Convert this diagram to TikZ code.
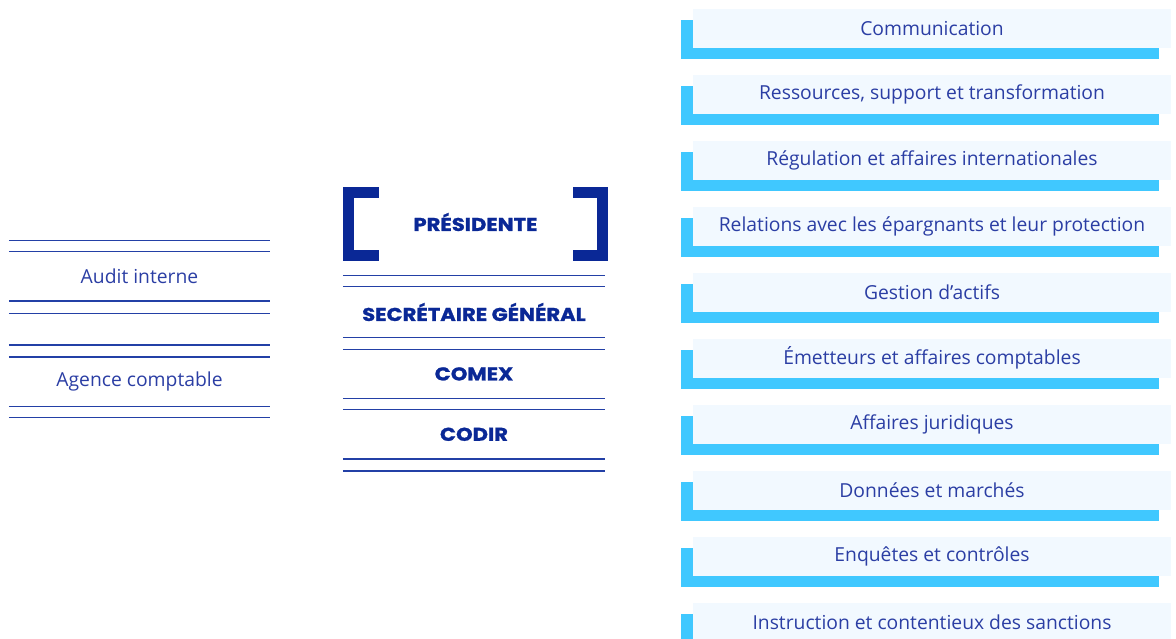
\documentclass[tikz,border=0pt]{standalone}
\usepackage{fontspec}
\setmainfont{Open Sans}
\newfontfamily\headfont{Poppins}[BoldFeatures={FakeBold=1.2,FakeStretch=1.14}]
\usepackage{tikz}
\usetikzlibrary{positioning,calc,shadows}
\definecolor{AmfNavy}{HTML}{0A2896}
\definecolor{AmfText}{HTML}{2B3EA4}
\definecolor{AmfLine}{HTML}{2340A6}
\definecolor{AmfCyan}{HTML}{40C8FF}
\definecolor{AmfSky}{HTML}{F2F9FF}

\begin{document}
\begin{tikzpicture}[x=1pt,y=-1pt,node distance=26.55pt]
  \tikzstyle{unit}=[minimum width=478pt, minimum height=39pt, inner sep=0pt, fill=AmfSky, text=AmfText, font=\fontsize{19.3}{21}\selectfont, general shadow={fill=AmfCyan, shadow xshift=-12pt, shadow yshift=-11pt}]
  \tikzstyle{side}=[minimum width=261pt, minimum height=49pt, inner sep=0pt, text=AmfText, font=\fontsize{19.3}{21}\selectfont]
  \tikzstyle{head}=[minimum width=262pt, minimum height=49pt, inner sep=0pt, text=AmfNavy, font=\headfont\bfseries\fontsize{18.5}{20}\selectfont]
  \tikzstyle{rule}=[draw=AmfLine, line width=1.4pt]
  \tikzstyle{bracket}=[draw=AmfNavy, line width=11pt, line join=miter]
  \useasboundingbox (0,0) rectangle (1176,639);

  % left column
  \node[side] (audit) at (139.5,276.5) {Audit interne};
  \node[side] (agence) at (139.5,381.5) {Agence comptable};
  \draw[rule] ([yshift=11pt]audit.north west) -- ([yshift=11pt]audit.north east);
  \draw[rule] (audit.north west) -- (audit.north east);
  \draw[rule] (audit.south west) -- (audit.south east);
  \draw[rule] ([yshift=-12pt]audit.south west) -- ([yshift=-12pt]audit.south east);
  \draw[rule] ([yshift=12pt]agence.north west) -- ([yshift=12pt]agence.north east);
  \draw[rule] (agence.north west) -- (agence.north east);
  \draw[rule] (agence.south west) -- (agence.south east);
  \draw[rule] ([yshift=-11pt]agence.south west) -- ([yshift=-11pt]agence.south east);

  % centre column
  \node[head, minimum width=265pt, minimum height=74pt] (pres) at (475.5,222) {PRÉSIDENTE};
  \draw[bracket] ($(pres.north west)+(36,7.5)$) -- ($(pres.north west)+(5.5,7.5)$) -- ($(pres.south west)+(5.5,-3.5)$) -- ($(pres.south west)+(36,-3.5)$);
  \draw[bracket] ($(pres.north east)+(-35,7.5)$) -- ($(pres.north east)+(-5.5,7.5)$) -- ($(pres.south east)+(-5.5,-3.5)$) -- ($(pres.south east)+(-35,-3.5)$);
  \node[head, minimum height=50pt] (sg) at (474,312) {SECRÉTAIRE GÉNÉRAL};
  \node[head, below=12pt of sg] (comex) {COMEX};
  \node[head, below=11pt of comex] (codir) {CODIR};
  \draw[rule] ([yshift=11pt]sg.north west) -- ([yshift=11pt]sg.north east);
  \draw[rule] (sg.north west) -- (sg.north east);
  \draw[rule] (sg.south west) -- (sg.south east);
  \draw[rule] (comex.north west) -- (comex.north east);
  \draw[rule] (comex.south west) -- (comex.south east);
  \draw[rule] (codir.north west) -- (codir.north east);
  \draw[rule] (codir.south west) -- (codir.south east);
  \draw[rule] ([yshift=-12pt]codir.south west) -- ([yshift=-12pt]codir.south east);

  % right column
  \node[unit] (comm) at (932,28.5) {Communication};
  \node[unit, below=of comm] (rst) {Ressources, support et transformation};
  \node[unit, below=of rst] (rai) {Régulation et affaires internationales};
  \node[unit, below=of rai] (rep) {Relations avec les épargnants et leur protection};
  \node[unit, below=of rep] (ga) {Gestion d’actifs};
  \node[unit, below=of ga] (eac) {Émetteurs et affaires comptables};
  \node[unit, below=of eac] (aj) {Affaires juridiques};
  \node[unit, below=of aj] (dm) {Données et marchés};
  \node[unit, below=of dm] (ec) {Enquêtes et contrôles};
  \node[unit, below=of ec] (ics) {Instruction et contentieux des sanctions};
\end{tikzpicture}
\end{document}
